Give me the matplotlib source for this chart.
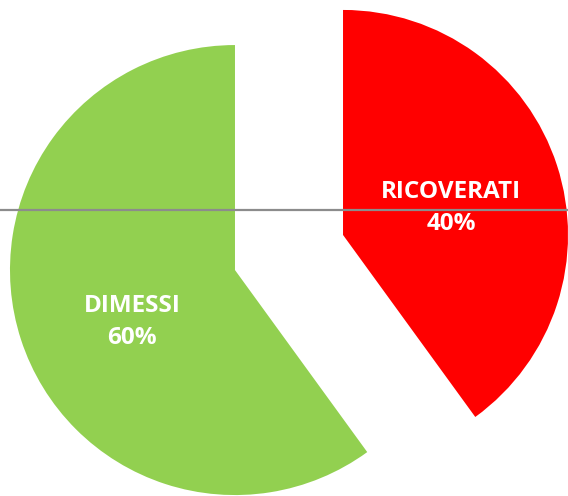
import matplotlib
matplotlib.use('Agg')
import matplotlib.pyplot as plt

# data
labels = ['RICOVERATI', 'DIMESSI']
values = [40, 60]
colors = ['#FF0000', '#92D050']

W, H = 568, 496
fig = plt.figure(figsize=(W/100, H/100), dpi=100)
ax = fig.add_axes([0, 0, 1, 1])
ax.set_xlim(0, W)
ax.set_ylim(0, H)
ax.axis('off')

R = 225
wedges, _ = ax.pie(values, colors=colors, startangle=90, counterclock=False,
                   radius=R, center=(289, 243.5), explode=[56.8, 56.8],
                   wedgeprops=dict(linewidth=0))
ax.set_xlim(0, W)
ax.set_ylim(0, H)
ax.set_aspect('equal')

# label spots (image px)
lab_pos = [(451, 208), (132, 322)]
for lab, v, (x, y) in zip(labels, values, lab_pos):
    ax.text(x, H - y, '%s\n%d%%' % (lab, v), ha='center', va='center',
            color='white', fontsize=17.5, fontweight='bold',
            family='Open Sans', linespacing=1.5)

# thin grey rule across the figure
ax.axhline(H - 210, color='#8c8c8c', lw=1.6, zorder=5)

fig.savefig('out.png', dpi=100)
